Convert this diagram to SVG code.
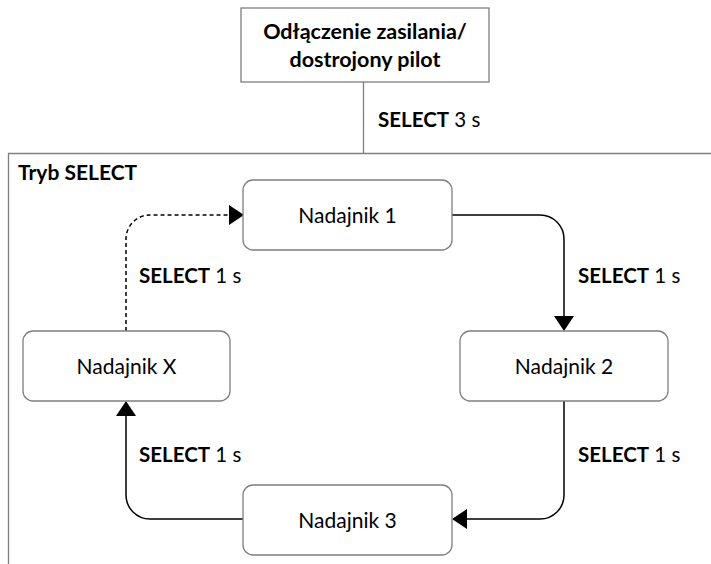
<svg xmlns="http://www.w3.org/2000/svg" width="711" height="564" viewBox="0 0 711 564">
<style>
text{font-family:Lato,"Open Sans","Liberation Sans",sans-serif;fill:#000}
.node{fill:#fff;stroke:#7f7f7f;stroke-width:1.3}
.lbl{font-size:20.5px}
.nt{font-size:21px;text-anchor:middle}
.b{font-weight:bold}
.conn{fill:none;stroke:#000;stroke-width:1.5}
.frame{fill:none;stroke:#7f7f7f;stroke-width:1.3}
</style>
<defs>
<marker id="ah" viewBox="0 0 15 20" refX="14" refY="10" markerWidth="15" markerHeight="20" markerUnits="userSpaceOnUse" orient="auto">
<path d="M0,0 L15,10 L0,20 z" fill="#000"/>
</marker>
</defs>
<path class="frame" d="M711,153.5 H8.5 V564"/>
<text x="18" y="180" class="b" style="font-size:21px">Tryb SELECT</text>
<g id="connectors">
<path class="frame" d="M363.5,82 V153"/>
<path class="conn" d="M452,215 H540 A24,24 0 0 1 564,239 V330" marker-end="url(#ah)"/>
<path class="conn" d="M564,401 V495 A24,24 0 0 1 540,519 H453" marker-end="url(#ah)"/>
<path class="conn" d="M243,519 H150 A24,24 0 0 1 126,495 V402" marker-end="url(#ah)"/>
<path class="conn" d="M126,331 V239 A24,24 0 0 1 150,215 H243" stroke-dasharray="4,3" marker-end="url(#ah)"/>
</g>
<g id="labels">
<text x="378" y="127" class="lbl"><tspan class="b">SELECT</tspan> 3 s</text>
<text x="578" y="283" class="lbl"><tspan class="b">SELECT</tspan> 1 s</text>
<text x="139" y="283" class="lbl"><tspan class="b">SELECT</tspan> 1 s</text>
<text x="139" y="462" class="lbl"><tspan class="b">SELECT</tspan> 1 s</text>
<text x="578" y="462" class="lbl"><tspan class="b">SELECT</tspan> 1 s</text>
</g>
<g id="start">
<rect x="241" y="8" width="248" height="74" fill="#fff" stroke="#7f7f7f" stroke-width="1.3"/>
<text x="365" y="39" class="b" text-anchor="middle" style="font-size:21.5px">Odłączenie zasilania/</text>
<text x="365" y="67" class="b" text-anchor="middle" style="font-size:21.5px">dostrojony pilot</text>
</g>
<g id="n1">
<rect class="node" x="243" y="180" width="209" height="70" rx="10"/>
<text class="nt" x="347.5" y="223">Nadajnik 1</text>
</g>
<g id="n2">
<rect class="node" x="460" y="331" width="208" height="70" rx="10"/>
<text class="nt" x="564" y="374">Nadajnik 2</text>
</g>
<g id="n3">
<rect class="node" x="243" y="485" width="209" height="70" rx="10"/>
<text class="nt" x="347.5" y="528">Nadajnik 3</text>
</g>
<g id="nx">
<rect class="node" x="23" y="331" width="207" height="70" rx="10"/>
<text class="nt" x="126.5" y="374">Nadajnik X</text>
</g>
</svg>
